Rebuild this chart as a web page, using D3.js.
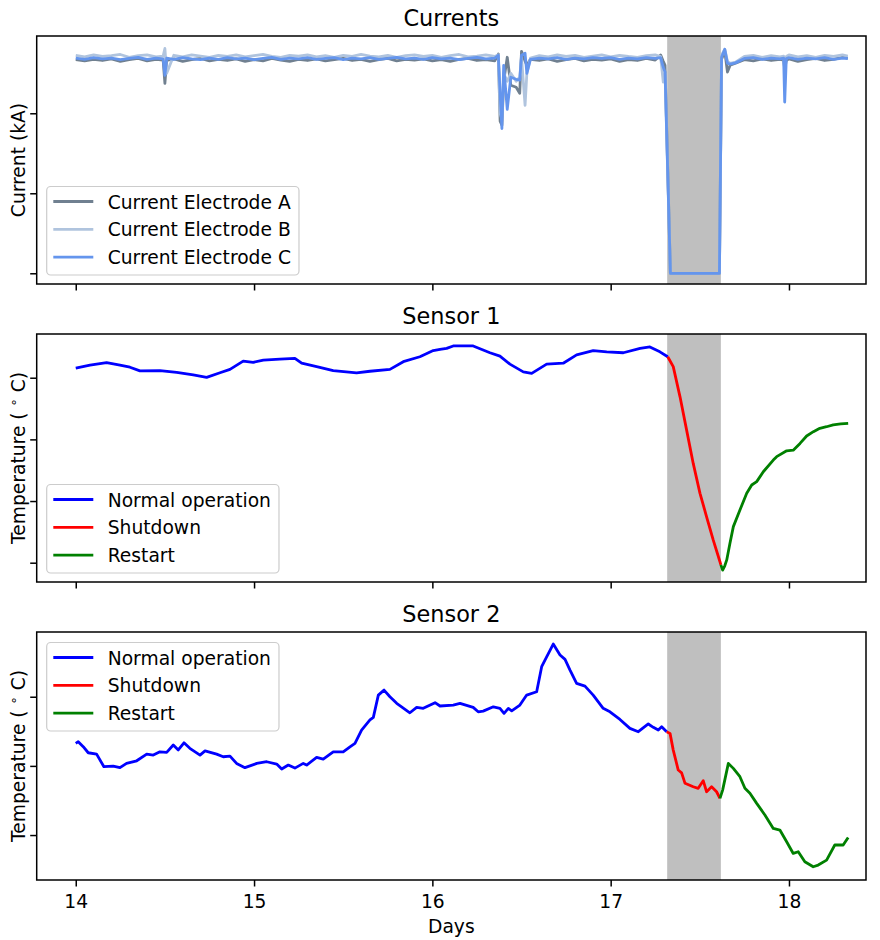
<!DOCTYPE html>
<html>
<head>
<meta charset="utf-8">
<script src="https://cdn.jsdelivr.net/npm/d3@7"></script>
<style>
  body { margin: 0; background: #fff; }
  svg { font-family: "DejaVu Sans", sans-serif; }
</style>
</head>
<body>
<div id="chart"></div>
<script>
// ---- data ----
const shutdownStart = 17.317;
const shutdownEnd = 17.618;
const dayTicks = [14, 15, 16, 17, 18];

// electrode currents, kA, on a shared time grid (days)
const currentDays = [
  14.00, 14.05, 14.10, 14.15, 14.20, 14.25, 14.30, 14.35, 14.40, 14.45,
  14.49, 14.50, 14.51, 14.55, 14.60, 14.65, 14.70, 14.75, 14.80, 14.85,
  14.90, 14.95, 15.00, 15.05, 15.10, 15.15, 15.20, 15.25, 15.30, 15.35,
  15.40, 15.45, 15.50, 15.55, 15.60, 15.65, 15.70, 15.75, 15.80, 15.85,
  15.90, 15.95, 16.00, 16.05, 16.10, 16.15, 16.20, 16.25, 16.30, 16.35,
  16.37, 16.38, 16.39, 16.40, 16.42, 16.44, 16.47, 16.49, 16.50, 16.52,
  16.53, 16.55, 16.60, 16.65, 16.70, 16.75, 16.80, 16.85, 16.90, 16.95,
  17.00, 17.05, 17.10, 17.15, 17.20, 17.25, 17.28, 17.295, 17.305, 17.335,
  17.40, 17.50, 17.60, 17.61, 17.622, 17.64, 17.655, 17.67, 17.70, 17.75,
  17.80, 17.85, 17.90, 17.95, 17.97, 17.976, 17.985, 18.00, 18.05, 18.10,
  18.15, 18.20, 18.25, 18.30, 18.33
];
const currentA = [
  53.4, 53.1, 53.5, 53.2, 53.6, 53.0, 53.4, 53.7, 53.1, 53.5,
  53.3, 47.5, 53.2, 53.6, 53.0, 53.4, 53.7, 53.1, 53.5, 53.2,
  53.6, 53.0, 53.4, 53.1, 53.7, 53.3, 53.0, 53.5, 53.2, 53.6,
  53.1, 53.4, 53.7, 53.2, 53.5, 53.0, 53.4, 53.7, 53.1, 53.5,
  53.3, 53.6, 53.1, 53.4, 53.0, 53.5, 53.7, 53.2, 53.4, 53.1,
  54.8, 38.0, 37.0, 48.0, 54.0, 47.0, 46.5, 45.0, 55.5, 53.0,
  52.0, 53.5, 53.2, 53.6, 53.0, 53.4, 53.7, 53.1, 53.5, 53.3,
  53.6, 53.0, 53.4, 53.2, 53.7, 53.3, 54.6, 53.0, 52.0, 0,
  0, 0, 0, 0, 53.5, 55.5, 50.3, 52.0, 52.5, 53.4,
  53.1, 53.6, 53.2, 53.5, 53.3, 51.0, 53.2, 53.6, 53.0, 53.4,
  53.7, 53.2, 53.5, 54.0, 53.8
];
const currentB = [
  54.5, 54.1, 54.6, 54.2, 54.4, 54.7, 54.0, 54.4, 54.6, 54.1,
  54.3, 56.2, 50.0, 54.5, 54.1, 54.6, 54.3, 54.0, 54.5, 54.2,
  54.6, 54.1, 54.4, 54.7, 54.2, 54.0, 54.5, 54.3, 54.6, 54.1,
  54.4, 54.0, 54.5, 54.2, 54.7, 54.3, 54.1, 54.5, 54.0, 54.4,
  54.6, 54.2, 54.5, 54.0, 54.4, 54.7, 54.1, 54.3, 54.6, 54.2,
  54.6, 40.0, 38.5, 50.0, 48.0, 50.0, 48.0, 49.0, 54.0, 42.0,
  50.0, 53.8, 54.4, 54.1, 54.6, 54.2, 54.5, 54.0, 54.3, 54.6,
  54.1, 54.5, 54.2, 54.0, 54.4, 54.6, 54.2, 47.8, 50.0, 0,
  0, 0, 0, 0, 54.5, 56.0, 53.0, 52.5, 52.8, 54.2,
  54.5, 54.0, 54.4, 54.1, 54.3, 52.0, 54.2, 54.6, 54.1, 54.4,
  54.0, 54.5, 54.2, 54.6, 54.3
];
const currentC = [
  53.8, 53.5, 53.9, 53.6, 53.8, 53.4, 53.7, 54.0, 53.5, 53.8,
  53.6, 49.5, 53.8, 53.5, 53.9, 53.6, 53.4, 53.8, 53.5, 53.9,
  53.6, 53.8, 53.4, 53.7, 54.0, 53.5, 53.8, 53.6, 53.9, 53.5,
  53.7, 53.9, 53.4, 53.8, 53.6, 53.9, 53.5, 53.7, 54.0, 53.6,
  53.8, 53.5, 53.9, 53.6, 53.8, 53.4, 53.7, 54.0, 53.6, 53.8,
  54.5, 45.0, 36.2, 52.0, 41.0, 49.0, 48.5, 48.3, 54.5, 55.0,
  50.0, 53.5, 53.8, 53.6, 53.9, 53.5, 53.8, 53.6, 53.9, 53.7,
  53.9, 53.5, 53.8, 53.6, 53.9, 53.7, 53.9, 51.5, 50.3, 0,
  0, 0, 0, 0, 54.0, 56.0, 52.5, 52.3, 52.6, 53.7,
  53.9, 53.5, 53.8, 53.6, 53.8, 42.8, 53.7, 53.9, 53.5, 53.8,
  53.6, 53.9, 53.5, 53.8, 53.7
];

// sensor 1 temperature, [day, degC]
const sensor1Normal = [
  [14.000, 103.1], [14.080, 104.1], [14.173, 104.9], [14.248, 104.1], [14.304, 103.4],
  [14.360, 102.2], [14.472, 102.3], [14.566, 101.7], [14.659, 100.9], [14.734, 100.1],
  [14.809, 101.6], [14.865, 102.7], [14.939, 105.4], [14.995, 105.0], [15.052, 105.7],
  [15.145, 106.0], [15.229, 106.3], [15.267, 104.7], [15.351, 103.6], [15.444, 102.3],
  [15.575, 101.6], [15.650, 102.1], [15.762, 102.7], [15.837, 105.2], [15.930, 106.8],
  [16.005, 108.8], [16.043, 109.2], [16.080, 109.5], [16.117, 110.3], [16.229, 110.3],
  [16.323, 108.1], [16.379, 107.0], [16.435, 104.4], [16.510, 101.9], [16.557, 101.4],
  [16.641, 104.4], [16.734, 104.7], [16.809, 107.4], [16.902, 108.8], [16.978, 108.4],
  [17.071, 108.1], [17.165, 109.5], [17.220, 110.0], [17.276, 108.4], [17.320, 106.8]
];
const sensor1Shutdown = [
  [17.320, 106.8], [17.351, 103.6], [17.389, 93.8], [17.426, 83.0], [17.463, 72.2],
  [17.501, 62.5], [17.538, 54.9], [17.575, 47.4], [17.613, 40.3], [17.618, 39.3]
];
const sensor1Restart = [
  [17.618, 39.3], [17.628, 37.6], [17.640, 39.0], [17.651, 40.9], [17.669, 46.3],
  [17.688, 51.7], [17.725, 57.1], [17.763, 62.5], [17.791, 65.2], [17.819, 66.3],
  [17.856, 69.5], [17.912, 73.3], [17.931, 74.4], [17.987, 76.3], [18.024, 76.5],
  [18.062, 78.7], [18.099, 81.1], [18.137, 82.5], [18.173, 83.6], [18.211, 84.1],
  [18.248, 84.7], [18.290, 85.0], [18.332, 85.2]
];

// sensor 2 temperature, [day, degC]
const sensor2Normal = [
  [14.000, 26.63], [14.014, 26.75], [14.042, 26.39], [14.070, 25.95], [14.117, 25.85],
  [14.158, 24.94], [14.210, 24.99], [14.248, 24.87], [14.285, 25.18], [14.342, 25.37],
  [14.398, 25.85], [14.435, 25.78], [14.472, 26.02], [14.510, 25.98], [14.547, 26.51],
  [14.575, 26.15], [14.607, 26.67], [14.640, 26.27], [14.697, 25.78], [14.725, 26.09],
  [14.790, 25.85], [14.827, 25.66], [14.865, 25.71], [14.902, 25.18], [14.949, 24.87],
  [15.015, 25.18], [15.071, 25.30], [15.127, 25.13], [15.155, 24.77], [15.192, 25.06],
  [15.229, 24.84], [15.276, 25.18], [15.295, 25.06], [15.351, 25.62], [15.388, 25.49],
  [15.444, 26.02], [15.500, 26.02], [15.538, 26.38], [15.566, 26.63], [15.603, 27.59],
  [15.650, 28.32], [15.669, 28.51], [15.697, 30.12], [15.729, 30.48], [15.762, 30.00],
  [15.800, 29.52], [15.874, 28.84], [15.912, 29.23], [15.949, 29.16], [16.015, 29.57],
  [16.043, 29.33], [16.117, 29.40], [16.155, 29.52], [16.229, 29.23], [16.257, 28.91],
  [16.285, 28.96], [16.342, 29.27], [16.379, 29.16], [16.402, 28.80], [16.426, 29.16],
  [16.445, 28.98], [16.491, 29.40], [16.529, 30.12], [16.585, 30.36], [16.613, 32.17],
  [16.641, 32.89], [16.678, 33.81], [16.716, 33.02], [16.744, 32.70], [16.772, 31.93],
  [16.809, 30.97], [16.856, 30.77], [16.902, 30.12], [16.958, 29.16], [16.996, 28.91],
  [17.052, 28.36], [17.108, 27.71], [17.155, 27.47], [17.211, 28.03], [17.239, 27.79],
  [17.267, 27.59], [17.286, 27.83], [17.314, 27.47]
];
const sensor2Shutdown = [
  [17.314, 27.47], [17.333, 27.35], [17.351, 26.14], [17.379, 24.70], [17.398, 24.50],
  [17.417, 23.74], [17.463, 23.49], [17.491, 23.38], [17.519, 23.93], [17.538, 23.13],
  [17.566, 23.49], [17.594, 23.13], [17.613, 22.65]
];
const sensor2Restart = [
  [17.613, 22.65], [17.628, 23.25], [17.660, 25.18], [17.688, 24.82], [17.725, 24.22],
  [17.753, 23.38], [17.781, 23.02], [17.819, 22.29], [17.865, 21.45], [17.912, 20.48],
  [17.949, 20.36], [17.987, 19.52], [18.024, 18.67], [18.052, 18.79], [18.089, 18.07],
  [18.136, 17.71], [18.164, 17.83], [18.211, 18.19], [18.257, 19.28], [18.304, 19.28],
  [18.332, 19.83]
];

// ---- layout ----
const svgWidth = 880, svgHeight = 940;
const plotLeft = 36.7, plotRight = 866, panelHeight = 248;
const baseFont = 18.7, titleFont = 22.4;

const svg = d3.select("#chart").append("svg")
    .attr("width", svgWidth)
    .attr("height", svgHeight);

const x = d3.scaleLinear().domain([13.781, 18.432]).range([plotLeft, plotRight]);

const toPairs = vals => vals.map((v, i) => [currentDays[i], v]);

const sensorSeries = (normal, shutdown, restart) => [
  { label: "Normal operation", color: "#0000ff", data: normal },
  { label: "Shutdown", color: "#ff0000", data: shutdown },
  { label: "Restart", color: "#008000", data: restart }
];

const panels = [
  { title: "Currents", top: 36, domain: [-2.68, 59.32], ticks: [0, 20, 40],
    ylabel: "Current (kA)", legendPos: "lower",
    series: [
      { label: "Current Electrode A", color: "#708090", data: toPairs(currentA) },
      { label: "Current Electrode B", color: "#b0c4de", data: toPairs(currentB) },
      { label: "Current Electrode C", color: "#6495ed", data: toPairs(currentC) }
    ] },
  { title: "Sensor 1", top: 334, domain: [33.74, 114.18], ticks: [40, 60, 80, 100],
    ylabel: "temp", legendPos: "lower",
    series: sensorSeries(sensor1Normal, sensor1Shutdown, sensor1Restart) },
  { title: "Sensor 2", top: 632, domain: [16.75, 34.68], ticks: [20, 25, 30],
    ylabel: "temp", legendPos: "upper",
    series: sensorSeries(sensor2Normal, sensor2Shutdown, sensor2Restart) }
];

panels.forEach((p, pi) => {
  const bottom = p.top + panelHeight;
  const y = d3.scaleLinear().domain(p.domain).range([bottom, p.top]);
  const g = svg.append("g");

  // shutdown window
  g.append("rect")
    .attr("x", x(shutdownStart))
    .attr("y", p.top)
    .attr("width", x(shutdownEnd) - x(shutdownStart))
    .attr("height", panelHeight)
    .attr("fill", "#bfbfbf");

  // lines
  const line = d3.line().x(d => x(d[0])).y(d => y(d[1]));
  g.selectAll(".series")
    .data(p.series)
    .join("path")
    .attr("fill", "none")
    .attr("stroke", d => d.color)
    .attr("stroke-width", 2.8)
    .attr("stroke-linejoin", "round")
    .attr("d", d => line(d.data));

  // axes
  const isLast = pi === panels.length - 1;
  const xAxis = g.append("g")
    .attr("transform", `translate(0,${bottom})`)
    .call(d3.axisBottom(x).tickValues(dayTicks).tickSize(6.5).tickPadding(8.5)
      .tickFormat(isLast ? d3.format("d") : () => ""));
  const yAxis = g.append("g")
    .attr("transform", `translate(${plotLeft},0)`)
    .call(d3.axisLeft(y).tickValues(p.ticks).tickSize(6.5).tickFormat(() => ""));
  [xAxis, yAxis].forEach(a => {
    a.select(".domain").remove();
    a.selectAll(".tick line").attr("stroke", "#000").attr("stroke-width", 1.5);
    a.selectAll(".tick text").attr("fill", "#000")
      .style("font-size", baseFont + "px")
      .style("font-family", "'DejaVu Sans', sans-serif");
  });

  // frame
  g.append("rect")
    .attr("x", plotLeft).attr("y", p.top)
    .attr("width", plotRight - plotLeft).attr("height", panelHeight)
    .attr("fill", "none").attr("stroke", "#000").attr("stroke-width", 1.5);

  // title
  g.append("text")
    .attr("x", (plotLeft + plotRight) / 2)
    .attr("y", p.top - 10)
    .attr("text-anchor", "middle")
    .style("font-size", titleFont + "px")
    .text(p.title);

  // y label
  const yl = g.append("text")
    .attr("transform", `translate(25,${p.top + panelHeight / 2}) rotate(-90)`)
    .attr("text-anchor", "middle")
    .style("font-size", baseFont + "px");
  if (p.ylabel === "temp") {
    yl.append("tspan").text("Temperature ( ");
    yl.append("tspan").attr("dy", -7).style("font-size", "13px").text("∘");
    yl.append("tspan").attr("dy", 7).text(" C)");
  } else {
    yl.text(p.ylabel);
  }

  // legend
  const rowOffsets = [15, 42.8, 70.6];
  const boxH = 88.5;
  const boxX = plotLeft + 10;
  const boxY = p.legendPos === "lower" ? bottom - 9 - boxH : p.top + 10.5;
  const lg = g.append("g");
  const box = lg.append("rect")
    .attr("x", boxX).attr("y", boxY)
    .attr("height", boxH).attr("rx", 4)
    .attr("fill", "#fff").attr("fill-opacity", 0.8)
    .attr("stroke", "#cccccc").attr("stroke-width", 1.2);
  let maxW = 0;
  p.series.forEach((s, i) => {
    const ry = boxY + rowOffsets[i];
    lg.append("line")
      .attr("x1", boxX + 6.6).attr("x2", boxX + 46.6)
      .attr("y1", ry).attr("y2", ry)
      .attr("stroke", s.color).attr("stroke-width", 2.8);
    const t = lg.append("text")
      .attr("x", boxX + 61).attr("y", ry + 7)
      .style("font-size", baseFont + "px")
      .text(s.label);
    maxW = Math.max(maxW, t.node().getComputedTextLength());
  });
  box.attr("width", 61 + maxW + 8);
});

// x label
svg.append("text")
  .attr("x", (plotLeft + plotRight) / 2)
  .attr("y", 933)
  .attr("text-anchor", "middle")
  .style("font-size", baseFont + "px")
  .text("Days");
</script>
</body>
</html>
